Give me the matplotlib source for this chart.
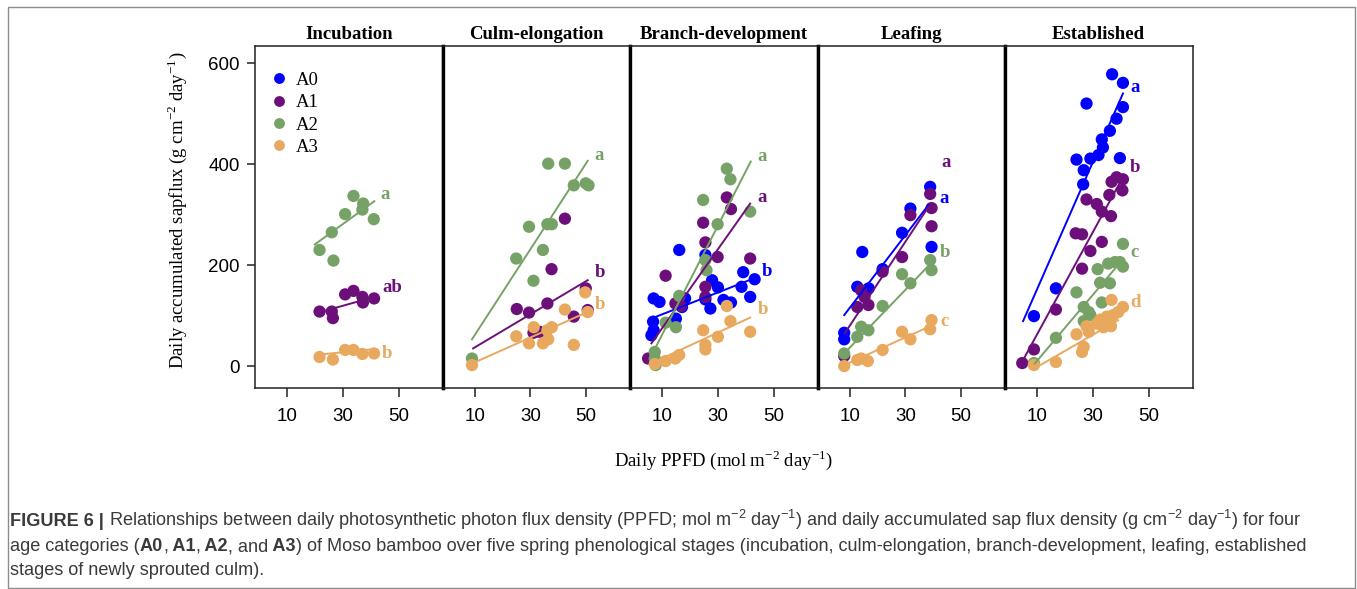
import matplotlib
matplotlib.use("Agg")
import matplotlib.pyplot as plt
from matplotlib.lines import Line2D
from matplotlib.patches import Rectangle

plt.rcParams["font.family"] = ["Liberation Sans", "DejaVu Sans"]

stages = ["Incubation", "Culm-elongation", "Branch-development", "Leafing", "Established"]
groups = ["A0", "A1", "A2", "A3"]
colors = {"A0": "#0000ff", "A1": "#6c0f7a", "A2": "#76a267", "A3": "#e8a95f"}

# daily PPFD (x) and daily sapflux (y) per age class
incubation_x = {
    "A1": [30.8, 33.8, 37.0, 37.2, 41.2, 21.6, 26.0, 26.4],
    "A2": [33.8, 37.3, 37.0, 30.8, 41.1, 26.0, 21.6, 26.6],
    "A3": [21.6, 26.4, 30.8, 33.8, 37.0, 41.2],
}
incubation_y = {
    "A1": [142, 149, 137, 126, 134, 108, 108, 95],
    "A2": [337, 322, 310, 301, 291, 265, 230, 209],
    "A3": [18, 13, 32, 32, 24, 25],
}

culm_x = {
    "A1": [42.4, 37.6, 25.1, 29.5, 36.1, 49.9, 50.6, 45.6, 31.1, 33.2],
    "A2": [36.4, 42.4, 45.6, 49.9, 50.9, 29.5, 36.1, 37.7, 34.5, 24.9, 31.1, 9.0],
    "A3": [9.0, 49.7, 50.6, 42.4, 24.9, 29.5, 31.2, 34.5, 36.1, 37.7, 36.4, 45.6],
}
culm_y = {
    "A1": [292, 192, 113, 106, 124, 154, 111, 98, 66, 68],
    "A2": [401, 401, 358, 362, 358, 276, 281, 281, 230, 213, 169, 15],
    "A3": [2, 146, 107, 112, 59, 45, 77, 45, 71, 77, 53, 42],
}

branch_x = {
    "A0": [16.1, 25.5, 27.9, 30.0, 39.1, 43.2, 38.5, 41.6, 32.0, 34.7,
           6.9, 9.0, 18.2, 17.1, 25.5, 27.3, 14.9, 6.7, 6.9, 6.1],
    "A1": [33.2, 34.7, 24.7, 25.5, 29.9, 41.6, 11.2, 25.5, 14.7, 16.7, 25.5, 4.9],
    "A2": [33.2, 34.5, 24.7, 41.6, 29.9, 25.5, 25.9, 16.1, 14.9, 11.2, 7.3, 7.3, 7.6],
    "A3": [33.2, 34.5, 41.6, 24.7, 30.0, 25.5, 25.5, 16.1, 14.7, 11.2, 7.3],
}
branch_y = {
    "A0": [230, 220, 170, 156, 186, 172, 157, 137, 131, 126,
           134, 127, 134, 117, 132, 114, 94, 88, 71, 61],
    "A1": [334, 311, 284, 245, 216, 213, 179, 157, 124, 119, 137, 15],
    "A2": [391, 370, 329, 306, 281, 210, 190, 139, 77, 86, 28, 15, 2],
    "A3": [119, 89, 68, 71, 58, 42, 33, 22, 15, 10, 4],
}

leafing_x = {
    "A0": [38.9, 31.8, 28.8, 14.5, 39.4, 21.8, 12.7, 16.8, 8.0, 8.0],
    "A1": [38.9, 39.4, 39.4, 31.8, 28.8, 21.8, 14.1, 15.3, 12.7, 16.7, 8.0],
    "A2": [38.9, 39.4, 28.8, 31.8, 21.8, 14.1, 16.7, 12.7, 8.0],
    "A3": [39.4, 38.9, 28.8, 31.8, 21.8, 14.1, 12.7, 16.5, 8.0],
}
leafing_y = {
    "A0": [355, 312, 264, 226, 236, 192, 157, 154, 66, 53],
    "A1": [341, 313, 277, 299, 216, 187, 150, 137, 117, 121, 20],
    "A2": [210, 190, 182, 164, 119, 78, 71, 58, 25],
    "A3": [91, 73, 68, 53, 32, 15, 12, 10, 0],
}

established_x = {
    "A0": [36.9, 40.8, 27.7, 40.8, 38.5, 36.1, 33.2, 33.6, 32.0, 29.1, 24.1, 39.7,
           26.7, 26.5, 16.7, 8.8],
    "A1": [38.5, 40.8, 36.7, 40.6, 35.9, 27.7, 31.4, 33.2, 36.5, 23.8, 26.1, 33.2,
           29.1, 26.1, 16.7, 8.8, 4.6],
    "A2": [40.8, 37.9, 39.7, 40.8, 35.5, 31.7, 32.6, 36.1, 24.1, 33.2, 26.7, 28.5,
           29.1, 26.7, 16.7, 8.8],
    "A3": [36.7, 40.8, 39.1, 37.3, 35.0, 32.6, 31.4, 36.5, 33.8, 27.7, 28.5, 24.1,
           26.7, 26.1, 16.7, 8.8],
}
established_y = {
    "A0": [578, 561, 520, 513, 490, 466, 449, 433, 418, 411, 409, 412, 388, 360, 154, 99],
    "A1": [374, 370, 365, 348, 339, 330, 321, 306, 297, 263, 261, 246, 228, 193, 112, 33, 6],
    "A2": [242, 206, 206, 197, 203, 192, 165, 164, 146, 126, 117, 107, 101, 89, 56, 6],
    "A3": [131, 117, 107, 101, 98, 92, 84, 79, 77, 79, 68, 63, 38, 28, 8, 2],
}

# regression lines: slope, intercept, first and last PPFD
incubation_fit = {"A1": (1.55, 73, 21.6, 41.2), "A2": (4.0, 161.4, 19.9, 41.3),
                  "A3": (0.55, 11, 21.6, 41.2)}
culm_fit = {"A1": (3.28, 4.2, 9.4, 50.6), "A2": (8.5, -23.5, 9.0, 50.6),
            "A3": (2.46, -17.2, 9.0, 50.6)}
branch_fit = {"A0": (2.16, 81, 7.9, 43.5), "A1": (7.8, -2.6, 6.1, 41.6),
              "A2": (10.77, -45, 7.9, 41.8), "A3": (2.55, -10, 7.3, 41.6)}
leafing_fit = {"A0": (7.2, 43.4, 8.0, 38.3), "A1": (8.32, -3.2, 8.2, 38.3),
               "A2": (5.73, -20.8, 8.0, 38.9), "A3": (2.49, -17.9, 8.0, 38.9)}
established_fit = {"A0": (12.56, 27.5, 4.9, 40.8), "A1": (10.1, -37.5, 4.9, 40.8),
                   "A2": (6.52, -54.3, 9.1, 40.8), "A3": (3.18, -33.4, 9.1, 39.1)}

# significance letters
incubation_letters = [("A2", "a", 45.0, 339), ("A1", "ab", 47.6, 156), ("A3", "b", 45.8, 25)]
culm_letters = [("A2", "a", 54.8, 418), ("A1", "b", 55.0, 186), ("A3", "b", 55.0, 121)]
branch_letters = [("A2", "a", 45.8, 416), ("A1", "a", 46.0, 334), ("A0", "b", 47.7, 187),
                  ("A3", "b", 46.2, 112)]
leafing_letters = [("A1", "a", 44.5, 403), ("A0", "a", 43.8, 332), ("A2", "b", 44.2, 224),
                   ("A3", "c", 43.9, 88)]
established_letters = [("A0", "a", 45.0, 551), ("A1", "b", 45.2, 393), ("A2", "c", 45.0, 224),
                       ("A3", "d", 45.3, 126)]

all_x = [incubation_x, culm_x, branch_x, leafing_x, established_x]
all_y = [incubation_y, culm_y, branch_y, leafing_y, established_y]
all_fit = [incubation_fit, culm_fit, branch_fit, leafing_fit, established_fit]
all_letters = [incubation_letters, culm_letters, branch_letters, leafing_letters,
               established_letters]

serif = "Liberation Serif"
W, H = 1357, 589

fig = plt.figure(figsize=(W / 100, H / 100), dpi=100)
axes = fig.subplots(1, 5, sharey=True)
fig.subplots_adjust(left=255 / W, right=1192.5 / W, bottom=1 - 388.3 / H, top=1 - 46 / H,
                    wspace=0)

for i, ax in enumerate(axes):
    xs, ys, fits = all_x[i], all_y[i], all_fit[i]
    for g in groups:
        if g in xs:
            ax.scatter(xs[g], ys[g], s=78, color=colors[g], edgecolors="none", zorder=2)
    for g in groups:
        if g in fits:
            m, b, x0, x1 = fits[g]
            ax.plot([x0, x1], [m * x0 + b, m * x1 + b], color=colors[g], lw=1.4, zorder=3)
    for g, lab, lx, ly in all_letters[i]:
        ax.text(lx, ly, lab, color=colors[g], fontsize=13.5, fontweight="bold",
                family=serif, ha="center", va="center", zorder=4)

    ax.set_xlim(-1.6, 65.8)
    ax.set_ylim(-44, 634)
    ax.set_xticks([10, 30, 50])
    ax.tick_params(axis="x", direction="out", length=6.5, width=1.1, pad=8,
                   labelsize=13.5, color="#222222")
    ax.set_title(stages[i], fontsize=13.5, fontweight="bold", family=serif, pad=5)
    for sp in ax.spines.values():
        sp.set_linewidth(1.1)
        sp.set_color("#222222")
    if i > 0:
        ax.spines["left"].set_linewidth(2.4)
        ax.spines["left"].set_color("black")
        ax.tick_params(axis="y", left=False)
    if i < 4:
        ax.spines["right"].set_linewidth(2.4)
        ax.spines["right"].set_color("black")

axes[0].set_yticks([0, 200, 400, 600])
axes[0].tick_params(axis="y", direction="out", length=6, width=1.1, pad=5, labelsize=13.5,
                    color="#222222")

handles = [Line2D([], [], marker="o", ls="", color=colors[g], markersize=7.8,
                  markeredgewidth=0) for g in groups]
axes[0].legend(handles, groups, loc="upper left", bbox_to_anchor=(-0.025, 0.985),
               frameon=False, prop={"family": serif, "size": 13.5}, handlelength=0.9,
               handletextpad=0.45, labelspacing=0.28, borderpad=0.9, borderaxespad=0.2)

fig.text(177 / W, 1 - 210 / H,
         r"Daily accumulated sapflux (g cm$^{\mathregular{-2}}$ day$^{\mathregular{-1}}$)",
         rotation=90, ha="center", va="center", family=serif, fontsize=13.5)
fig.text(724 / W, 1 - 460 / H,
         r"Daily PPFD (mol m$^{\mathregular{-2}}$ day$^{\mathregular{-1}}$)",
         ha="center", va="center", family=serif, fontsize=13.5)

# caption, bold and regular runs placed one after another
renderer = fig.canvas.get_renderer()
cap_color = "#3a3a3a"
cap_size = 13.1


def caption_line(x_px, base_px, parts):
    x = x_px
    for s, w in parts:
        t = fig.text(x / W, 1 - base_px / H, s, fontsize=cap_size, fontweight=w,
                     color=cap_color, ha="left", va="baseline")
        x += t.get_window_extent(renderer).width


sup2 = r"$^{\mathregular{-2}}$"
sup1 = r"$^{\mathregular{-1}}$"
caption_line(10, 526, [
    ("FIGURE 6 |", "bold"),
    (" Relationships between daily photosynthetic photon flux density (PPFD; mol m" + sup2
     + " day" + sup1 + ") and daily accumulated sap flux density (g cm" + sup2 + " day"
     + sup1 + ") for four", "normal"),
])
caption_line(10, 551, [
    ("age categories (", "normal"), ("A0", "bold"), (",", "normal"), (" A1", "bold"),
    (",", "normal"), (" A2", "bold"), (", and", "normal"), (" A3", "bold"),
    (") of Moso bamboo over five spring phenological stages (incubation, culm-elongation, "
     "branch-development, leafing, established", "normal"),
])
caption_line(10, 575, [("stages of newly sprouted culm).", "normal")])

fig.add_artist(Rectangle((8 / W, 1 - 588 / H), 1347 / W, 581 / H, transform=fig.transFigure,
                         fill=False, edgecolor="#8c8c8c", lw=1.0))

fig.savefig("out.png", dpi=100)
